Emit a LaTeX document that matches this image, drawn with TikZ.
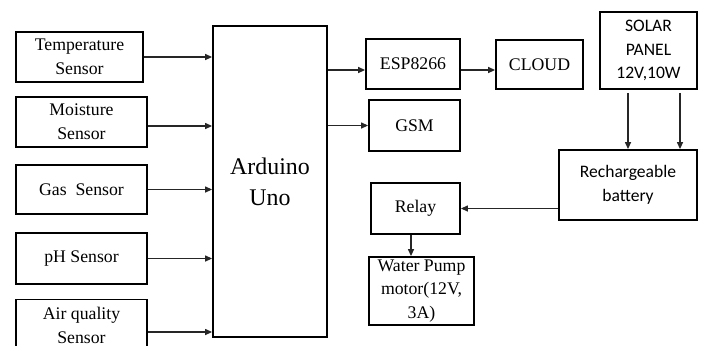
\documentclass[tikz,border=0pt]{standalone}
\usepackage{fontspec}
\setmainfont{Liberation Serif}
\newfontfamily\calibrifont{Carlito}
\usetikzlibrary{arrows.meta}

\begin{document}
\begin{tikzpicture}[
    x=0.02cm, y=-0.02cm,
    box/.style={rectangle, draw, line width=1.1pt, inner sep=0pt, align=center, font={\fontsize{10.1}{13.6}\selectfont}},
    sbox/.style={box, font={\calibrifont\fontsize{10}{13.6}\selectfont}},
    arrow/.style={-{Triangle[length=4pt,width=3.5pt]}, line width=0.6pt, black!85},
]
\clip (0,0) rectangle (702,345);

% Sensors
\node[box, minimum width=2.54cm, minimum height=1cm] (temp) at (79.5,57) {Temperature\\Sensor};
\node[box, minimum width=2.62cm, minimum height=1cm] (moist) at (81.5,122) {Moisture\\Sensor};
\node[box, minimum width=2.62cm, minimum height=0.98cm] (gas) at (81.5,189.5) {Gas\ \ Sensor};
\node[box, minimum width=2.62cm, minimum height=1.02cm] (ph) at (81.5,258.5) {pH Sensor};
\node[box, minimum width=2.62cm, minimum height=1.02cm] (air) at (81.5,325) {Air quality\\Sensor};

% Controller
\node[box, minimum width=2.28cm, minimum height=6.22cm, font={\fontsize{13.6}{17.6}\selectfont}] (ard) at (270,181.5) {Arduino\\Uno};

% Communication
\node[box, minimum width=1.88cm, minimum height=1cm] (esp) at (413,64) {ESP8266};
\node[box, minimum width=1.82cm, minimum height=1.02cm] (gsm) at (414.5,125.5) {GSM};
\node[box, minimum width=1.74cm, minimum height=0.98cm] (cloud) at (539.5,64.5) {CLOUD};

% Power
\node[sbox, minimum width=1.94cm, minimum height=1.54cm] (solar) at (648.5,50.5) {SOLAR\\PANEL\\12V,10W};
\node[sbox, minimum width=2.76cm, minimum height=1.4cm] (batt) at (628,185) {Rechargeable\\battery};
\node[box, minimum width=1.78cm, minimum height=1.02cm] (relay) at (415.5,208.5) {Relay};
\node[box, minimum width=2.1cm, minimum height=1.36cm, font={\fontsize{10.1}{13.3}\selectfont}] (pump) at (421.5,291) {Water Pump\\motor(12V,\\3A)};

% Arrows
\draw[arrow] (temp.east) -- (temp.east -| ard.west);
\draw[arrow] ([yshift=-0.08cm]moist.east) -- ([yshift=-0.08cm]moist.east -| ard.west);
\draw[arrow] (gas.east) -- (gas.east -| ard.west);
\draw[arrow] (ph.east) -- (ph.east -| ard.west);
\draw[arrow] ([yshift=-0.14cm]air.east) -- ([yshift=-0.14cm]air.east -| ard.west);
\draw[arrow] ([yshift=-0.12cm]esp.west -| ard.east) -- ([yshift=-0.12cm]esp.west);
\draw[arrow] (gsm.west -| ard.east) -- (gsm.west);
\draw[arrow] ([yshift=-0.12cm]esp.east) -- ([yshift=-0.12cm]esp.east -| cloud.west);
\draw[arrow] ([xshift=-0.41cm, yshift=-0.06cm]solar.south) -- ([xshift=-0.41cm]solar.south |- batt.north);
\draw[arrow] ([xshift=0.63cm, yshift=-0.06cm]solar.south) -- ([xshift=0.63cm]solar.south |- batt.north);
\draw[arrow] (batt.west |- relay.east) -- (relay.east);
\draw[arrow] ([xshift=-0.09cm]relay.south) -- ([xshift=-0.09cm]relay.south |- pump.north);
\end{tikzpicture}
\end{document}
